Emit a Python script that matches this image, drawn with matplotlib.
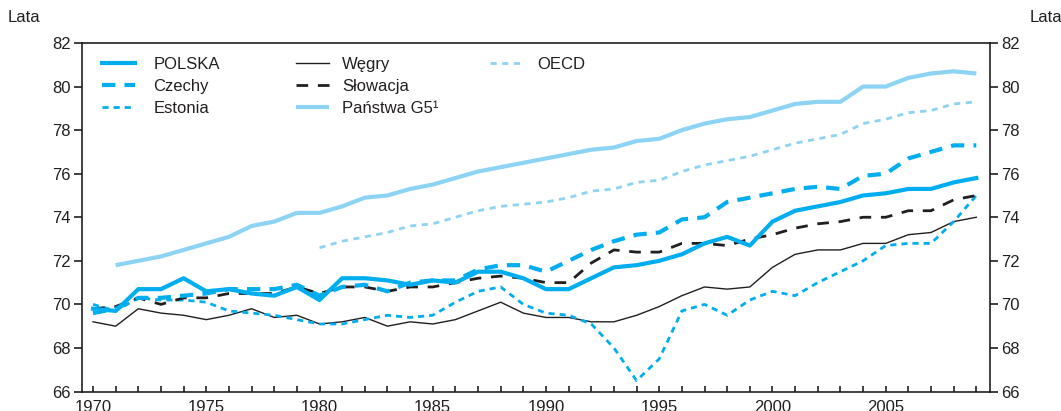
import matplotlib
matplotlib.use("Agg")
import matplotlib.pyplot as plt
from matplotlib.lines import Line2D

plt.rcParams['font.family'] = ['Liberation Sans', 'DejaVu Sans']

years = list(range(1970, 2010))

polska = [69.8, 69.7, 70.7, 70.7, 71.2, 70.6, 70.7, 70.5, 70.4, 70.8,
          70.2, 71.2, 71.2, 71.1, 70.9, 71.1, 71.0, 71.5, 71.5, 71.2,
          70.7, 70.7, 71.2, 71.7, 71.8, 72.0, 72.3, 72.8, 73.1, 72.7,
          73.8, 74.3, 74.5, 74.7, 75.0, 75.1, 75.3, 75.3, 75.6, 75.8]
czechy = [69.6, 69.8, 70.3, 70.3, 70.4, 70.5, 70.7, 70.7, 70.7, 70.9,
          70.4, 70.8, 70.9, 70.6, 71.0, 71.1, 71.1, 71.6, 71.8, 71.8,
          71.5, 72.0, 72.5, 72.9, 73.2, 73.3, 73.9, 74.0, 74.7, 74.9,
          75.1, 75.3, 75.4, 75.3, 75.9, 76.0, 76.7, 77.0, 77.3, 77.3]
estonia = [70.0, 69.7, 70.3, 70.2, 70.2, 70.1, 69.7, 69.6, 69.5, 69.3,
           69.1, 69.1, 69.3, 69.5, 69.4, 69.5, 70.1, 70.6, 70.8, 70.0,
           69.6, 69.5, 69.1, 68.0, 66.5, 67.5, 69.7, 70.0, 69.5, 70.2,
           70.6, 70.4, 71.0, 71.5, 72.0, 72.7, 72.8, 72.8, 73.8, 75.0]
wegry = [69.2, 69.0, 69.8, 69.6, 69.5, 69.3, 69.5, 69.8, 69.4, 69.5,
         69.1, 69.2, 69.4, 69.0, 69.2, 69.1, 69.3, 69.7, 70.1, 69.6,
         69.4, 69.4, 69.2, 69.2, 69.5, 69.9, 70.4, 70.8, 70.7, 70.8,
         71.7, 72.3, 72.5, 72.5, 72.8, 72.8, 73.2, 73.3, 73.8, 74.0]
slowacja = [69.8, 69.9, 70.3, 70.0, 70.3, 70.3, 70.5, 70.5, 70.5, 70.8,
            70.5, 70.8, 70.8, 70.6, 70.8, 70.8, 71.0, 71.2, 71.3, 71.2,
            71.0, 71.0, 71.9, 72.5, 72.4, 72.4, 72.8, 72.8, 72.7, 73.0,
            73.2, 73.5, 73.7, 73.8, 74.0, 74.0, 74.3, 74.3, 74.8, 75.0]
g5_years = list(range(1971, 2010))
g5 = [71.8, 72.0, 72.2, 72.5, 72.8, 73.1, 73.6, 73.8, 74.2,
      74.2, 74.5, 74.9, 75.0, 75.3, 75.5, 75.8, 76.1, 76.3, 76.5,
      76.7, 76.9, 77.1, 77.2, 77.5, 77.6, 78.0, 78.3, 78.5, 78.6,
      78.9, 79.2, 79.3, 79.3, 80.0, 80.0, 80.4, 80.6, 80.7, 80.6]
oecd_years = list(range(1980, 2010))
oecd = [72.6, 72.9, 73.1, 73.3, 73.6, 73.7, 74.0, 74.3, 74.5, 74.6,
        74.7, 74.9, 75.2, 75.3, 75.6, 75.7, 76.1, 76.4, 76.6, 76.8,
        77.1, 77.4, 77.6, 77.8, 78.3, 78.5, 78.8, 78.9, 79.2, 79.3]

yticks = [66, 68, 70, 72, 74, 76, 78, 80, 82]
xticks = [1970, 1975, 1980, 1985, 1990, 1995, 2000, 2005]

BLUE = '#00aeef'
LIGHT = '#8dd3f4'
BLACK = '#231f20'
TXT = '#231f20'

fig = plt.figure(figsize=(10.61, 4.11), dpi=100)
ax = fig.add_axes([0.077, 0.0474, 0.856, 0.848])

l_g5, = ax.plot(g5_years, g5, color=LIGHT, lw=3.0, solid_capstyle='butt', label='Państwa G5¹')
l_oecd, = ax.plot(oecd_years, oecd, color=LIGHT, lw=2.0, dashes=(2.2, 2.0), label='OECD')
l_wegry, = ax.plot(years, wegry, color=BLACK, lw=1.0, label='Węgry')
l_est, = ax.plot(years, estonia, color=BLUE, lw=2.0, dashes=(2.2, 1.8), label='Estonia')
l_slo, = ax.plot(years, slowacja, color=BLACK, lw=2.0, dashes=(4.2, 3.5), label='Słowacja')
l_cz, = ax.plot(years, czechy, color=BLUE, lw=3.0, dashes=(3.2, 2.2), label='Czechy')
l_pl, = ax.plot(years, polska, color=BLUE, lw=3.0, label='POLSKA')

ax.set_xlim(1969.5, 2009.6)
ax.set_ylim(66, 82)
ax.set_yticks(yticks)
ax.set_xticks(xticks)
ax.set_xticks(years, minor=True)
ax.tick_params(axis='x', which='both', direction='in', length=4, width=1.2, colors=BLACK,
               labelsize=12, pad=6, labelcolor=TXT)
ax.tick_params(axis='y', which='both', direction='out', length=6, width=1.2, colors=BLACK,
               labelsize=12, pad=2, labelcolor=TXT, left=True, right=True,
               labelleft=True, labelright=True)
for s in ax.spines.values():
    s.set_color(BLACK)
    s.set_linewidth(1.2)

common = dict(frameon=False, fontsize=12, handlelength=2.0,
              labelspacing=0.42, borderpad=0, borderaxespad=0, loc='upper left',
              labelcolor=TXT)
leg1 = ax.legend([l_pl, l_cz, l_est], ['POLSKA', 'Czechy', 'Estonia'],
                 bbox_to_anchor=(0.022, 0.959), handletextpad=1.1, **common)
ax.add_artist(leg1)
leg2 = ax.legend([l_wegry, l_slo, l_g5], ['Węgry', 'Słowacja', 'Państwa G5¹'],
                 bbox_to_anchor=(0.236, 0.959), handletextpad=0.75, **common)
ax.add_artist(leg2)
leg3 = ax.legend([l_oecd], ['OECD'], bbox_to_anchor=(0.45, 0.959),
                 handletextpad=0.8, **common)

fig.text(8 / 1061, 1 - 18 / 411, 'Lata', fontsize=12, color=TXT, va='center', ha='left')
fig.text(1030 / 1061, 1 - 18 / 411, 'Lata', fontsize=12, color=TXT, va='center', ha='left')

fig.savefig('out.png', dpi=100)
